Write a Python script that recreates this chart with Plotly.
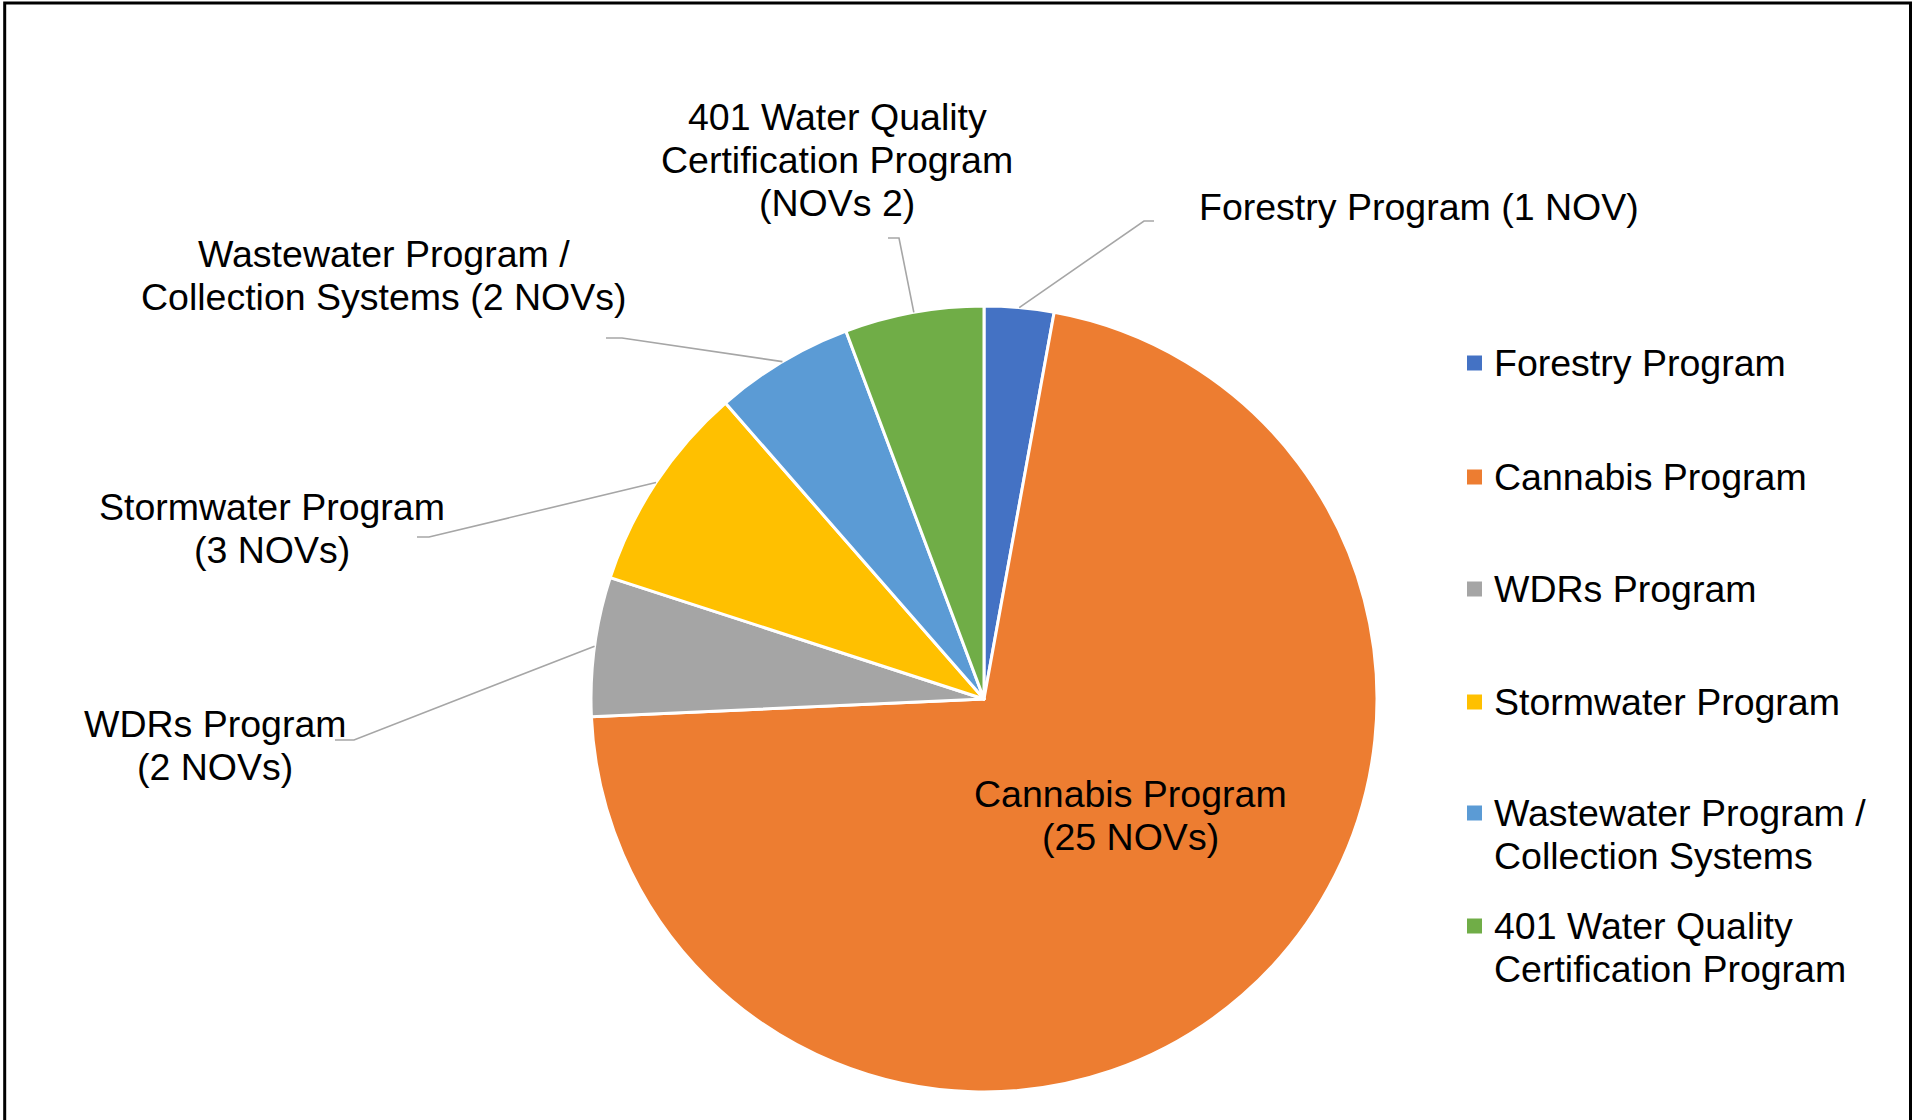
import math
import plotly.graph_objects as go

# ---------------- data ----------------
categories = [
    "Forestry Program",
    "Cannabis Program",
    "WDRs Program",
    "Stormwater Program",
    "Wastewater Program / Collection Systems",
    "401 Water Quality Certification Program",
]
nov_counts = [1, 25, 2, 3, 2, 2]

slice_label_lines = [
    ["Forestry Program (1 NOV)"],
    ["Cannabis Program", "(25 NOVs)"],
    ["WDRs Program", "(2 NOVs)"],
    ["Stormwater Program", "(3 NOVs)"],
    ["Wastewater Program /", "Collection Systems (2 NOVs)"],
    ["401 Water Quality", "Certification Program", "(NOVs 2)"],
]
legend_label_lines = [
    ["Forestry Program"],
    ["Cannabis Program"],
    ["WDRs Program"],
    ["Stormwater Program"],
    ["Wastewater Program /", "Collection Systems"],
    ["401 Water Quality", "Certification Program"],
]
colors = ["#4472C4", "#ED7D31", "#A5A5A5", "#FFC000", "#5B9BD5", "#70AD47"]

# ---------------- layout (pixels) ----------------
W, H = 1912, 1120
CX, CY, R = 984, 699, 393
FONT = "Liberation Sans, Arial, sans-serif"
FS = 37.5
LINE_H = 43

label_layout = [
    dict(x=1419, y=207, elbow=(1144, 221), end=1154),
    dict(x=1130, y=794, elbow=None, end=None),
    dict(x=215, y=724, elbow=(354, 740), end=335),
    dict(x=272, y=507, elbow=(429, 537), end=417),
    dict(x=384, y=254, elbow=(622, 338), end=606),
    dict(x=837, y=117, elbow=(899, 238), end=888),
]
legend_x_marker = 1467
legend_x_text = 1492
legend_y = [363, 477, 589, 702, 813, 926]


def px(x):
    return x / W


def py(y):
    return 1 - y / H


fig = go.Figure()
fig.add_trace(go.Pie(
    labels=categories,
    values=nov_counts,
    sort=False,
    direction="clockwise",
    rotation=0,
    marker=dict(colors=colors, line=dict(color="white", width=3)),
    textinfo="none",
    hoverinfo="label+value",
    showlegend=False,
    domain=dict(x=[px(CX - R), px(CX + R)], y=[py(CY + R), py(CY - R)]),
))

annotations = []
shapes = []

# slice labels + leader lines
total = sum(nov_counts)
cum = 0
for lines, lay, v in zip(slice_label_lines, label_layout, nov_counts):
    mid = (cum + v / 2) / total * 2 * math.pi
    cum += v
    for i, t in enumerate(lines):
        annotations.append(dict(
            x=px(lay["x"]), y=py(lay["y"] + i * LINE_H), xref="paper", yref="paper",
            text=t, showarrow=False, xanchor="center", yanchor="middle",
            font=dict(family=FONT, size=FS, color="black"),
        ))
    if lay["elbow"] is not None:
        sx = CX + R * math.sin(mid)
        sy = CY - R * math.cos(mid)
        ex, ey = lay["elbow"]
        path = "M {} {} L {} {} L {} {}".format(
            px(sx), py(sy), px(ex), py(ey), px(lay["end"]), py(ey))
        shapes.append(dict(type="path", xref="paper", yref="paper", path=path,
                           line=dict(color="#A6A6A6", width=1.6)))

# legend (drawn manually)
for lines, c, ly in zip(legend_label_lines, colors, legend_y):
    shapes.append(dict(type="rect", xref="paper", yref="paper",
                       x0=px(legend_x_marker), x1=px(legend_x_marker + 15),
                       y0=py(ly - 7.5), y1=py(ly + 7.5),
                       fillcolor=c, line=dict(width=0)))
    for i, t in enumerate(lines):
        annotations.append(dict(
            x=px(legend_x_text), y=py(ly + i * LINE_H), xref="paper", yref="paper",
            text=t, showarrow=False, xanchor="left", yanchor="middle",
            font=dict(family=FONT, size=FS, color="black"),
        ))

# outer frame
shapes.append(dict(type="rect", xref="paper", yref="paper",
                   x0=px(4.7), x1=px(1910.5), y0=-0.2, y1=py(3),
                   line=dict(color="black", width=3), fillcolor="rgba(0,0,0,0)"))

fig.update_layout(
    width=W, height=H,
    margin=dict(l=0, r=0, t=0, b=0),
    paper_bgcolor="white",
    plot_bgcolor="white",
    showlegend=False,
    annotations=annotations,
    shapes=shapes,
)

fig.write_html("out.html",
               config={"displayModeBar": False},
               post_script="document.body.style.margin='0px';document.body.style.overflow='hidden';")
